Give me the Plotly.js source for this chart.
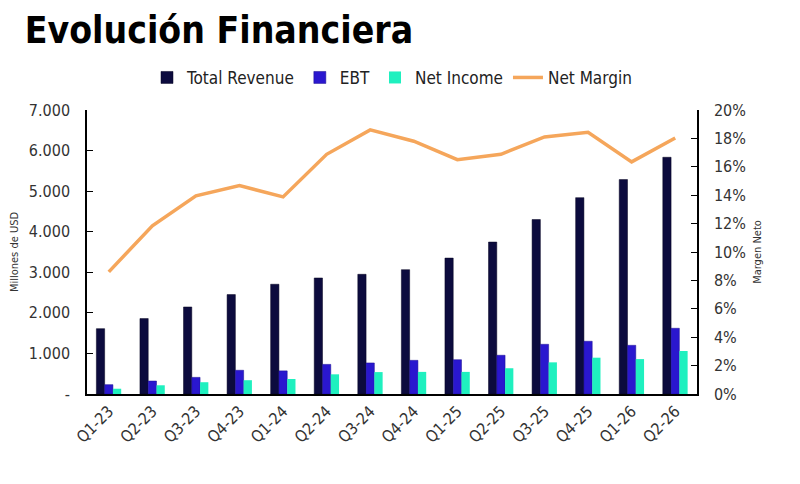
<!DOCTYPE html>
<html lang="es">
<head>
    <meta charset="UTF-8">
    <title>Evolución Financiera</title>
    <script src="https://cdn.plot.ly/plotly-3.0.1.min.js"></script>
    <style>
        body { margin: 0; background: #fff; }
        #chart { width: 800px; height: 484px; }
    </style>
</head>
<body>
<div id="chart"></div>
<script>
    // Quarterly figures (millions USD) and net margin (fraction)
    var quarters = ['Q1-23', 'Q2-23', 'Q3-23', 'Q4-23', 'Q1-24', 'Q2-24', 'Q3-24',
                    'Q4-24', 'Q1-25', 'Q2-25', 'Q3-25', 'Q4-25', 'Q1-26', 'Q2-26'];
    var totalRevenue = [1610, 1860, 2145, 2450, 2705, 2860, 2950, 3065, 3350, 3745, 4300, 4840, 5285, 5835];
    var ebt = [230, 320, 410, 585, 570, 730, 765, 830, 845, 955, 1225, 1300, 1200, 1620];
    var netIncome = [130, 215, 290, 340, 370, 485, 540, 545, 545, 635, 780, 895, 860, 1060];
    var netMargin = [0.086, 0.1185, 0.1395, 0.1468, 0.1388, 0.1688, 0.186, 0.178, 0.165, 0.1688, 0.181, 0.1843, 0.1635, 0.1803];

    var leftTicks = [0, 1000, 2000, 3000, 4000, 5000, 6000, 7000];
    var leftLabels = ['-', '1.000', '2.000', '3.000', '4.000', '5.000', '6.000', '7.000'];

    var narrow = '"Liberation Sans Narrow", "DejaVu Sans Condensed", Roboto, sans-serif';

    var data = [
        {
            type: 'bar', name: 'Total Revenue', x: quarters, y: totalRevenue,
            marker: { color: '#0c0b3e', line: { color: '#060520', width: 0.5 } }
        },
        {
            type: 'bar', name: 'EBT', x: quarters, y: ebt,
            marker: { color: '#2a17cf', line: { color: '#1a0e90', width: 0.5 } }
        },
        {
            type: 'bar', name: 'Net Income', x: quarters, y: netIncome,
            marker: { color: '#1ff0bf' }
        },
        {
            type: 'scatter', mode: 'lines', name: 'Net Margin', x: quarters, y: netMargin,
            yaxis: 'y2', line: { color: '#f5a65b', width: 3.5 }
        }
    ];

    var layout = {
        width: 800,
        height: 484,
        margin: { l: 87, r: 103, t: 110, b: 90 },
        paper_bgcolor: '#fff',
        plot_bgcolor: '#fff',
        font: { family: narrow, color: '#333', size: 16 },
        title: {
            text: '<b>Evolución Financiera</b>',
            font: { family: narrow, size: 37, color: '#000' },
            xref: 'container', x: 0.031, xanchor: 'left',
            yref: 'container', y: 0.938, yanchor: 'middle'
        },
        barmode: 'group',
        bargap: 0.43,
        bargroupgap: 0,
        showlegend: true,
        legend: {
            orientation: 'h', x: 0.5, xanchor: 'center', y: 1.113, yanchor: 'middle',
            font: { family: narrow, size: 17, color: '#222' },
            traceorder: 'normal'
        },
        xaxis: {
            type: 'category',
            showline: true, linecolor: '#000', linewidth: 1.5,
            ticks: '', tickangle: -45,
            tickfont: { family: narrow, size: 16, color: '#333' },
            showgrid: false, zeroline: false
        },
        yaxis: {
            range: [0, 7000],
            tickvals: leftTicks, ticktext: leftLabels,
            showline: true, linecolor: '#000', linewidth: 1.5,
            ticks: 'inside', ticklen: 6, tickcolor: '#000',
            ticklabelstandoff: 12,
            tickfont: { family: narrow, size: 16, color: '#333' },
            showgrid: false, zeroline: false,
            title: { text: 'Millones de USD', font: { family: narrow, size: 11, color: '#333' }, standoff: 8 }
        },
        yaxis2: {
            overlaying: 'y', side: 'right',
            range: [0, 0.2], dtick: 0.02, tickformat: '.0%',
            showline: true, linecolor: '#000', linewidth: 1.5,
            ticks: 'inside', ticklen: 6, tickcolor: '#000',
            ticklabelstandoff: 12,
            tickfont: { family: narrow, size: 16, color: '#333' },
            showgrid: false, zeroline: false,
            title: { text: 'Margen Neto', font: { family: narrow, size: 11, color: '#333' }, standoff: 8 }
        }
    };

    Plotly.newPlot('chart', data, layout, { displayModeBar: false, responsive: false });
</script>
</body>
</html>
